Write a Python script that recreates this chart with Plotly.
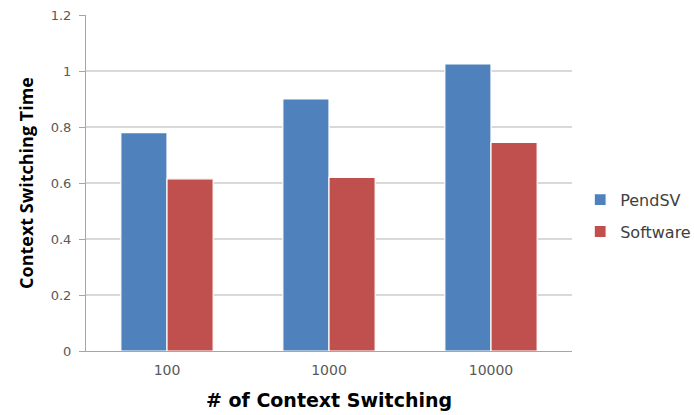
import plotly.graph_objects as go

categories = ["100", "1000", "10000"]
pendsv = [0.78, 0.90, 1.025]
software = [0.615, 0.62, 0.745]
y_ticks = [0, 0.2, 0.4, 0.6, 0.8, 1.0, 1.2]
y_tick_labels = ["0", "0.2", "0.4", "0.6", "0.8", "1", "1.2"]

fig = go.Figure()
fig.add_trace(go.Bar(x=categories, y=pendsv, name="PendSV", legendgroup="a",
                     marker=dict(color="#4f81bd", line=dict(color="white", width=1.2))))
fig.add_trace(go.Bar(x=categories, y=software, name="Software", legendgroup="b",
                     marker=dict(color="#c0504d", line=dict(color="white", width=1.2))))

fig.update_layout(
    width=694, height=415,
    margin=dict(l=86, r=122, t=15, b=64),
    paper_bgcolor="white", plot_bgcolor="white",
    font=dict(family="DejaVu Sans", color="#595959", size=13),
    barmode="group", bargap=0.43, bargroupgap=0.0,
    showlegend=True,
    legend=dict(xref="container", yref="container", x=0.836, y=0.48,
                xanchor="left", yanchor="middle",
                font=dict(size=16, color="#404040"), tracegroupgap=8,
                traceorder="grouped", itemwidth=30),
)
fig.update_yaxes(
    range=[0, 1.2], tickvals=y_ticks, ticktext=y_tick_labels,
    tickfont=dict(size=13), ticklabelstandoff=5,
    showgrid=True, gridcolor="#d9d9d9", gridwidth=1.5,
    showline=True, linecolor="#a6a6a6", linewidth=1,
    ticks="outside", ticklen=6, tickcolor="#a6a6a6",
    zeroline=False, automargin=False,
    title=dict(text="<b>Context Switching Time</b>",
               font=dict(family="Open Sans", size=18, color="black"), standoff=12),
)
fig.update_xaxes(
    showline=True, linecolor="#a6a6a6", linewidth=1,
    tickfont=dict(size=14), ticklabelstandoff=6,
    ticks="", showgrid=False, automargin=False,
    title=dict(text="<b># of Context Switching</b>",
               font=dict(family="DejaVu Sans", size=19, color="black"), standoff=16),
)

fig.write_html("out.html", config={"displayModeBar": False},
               post_script="document.body.style.margin='0';document.body.style.overflow='hidden';")
